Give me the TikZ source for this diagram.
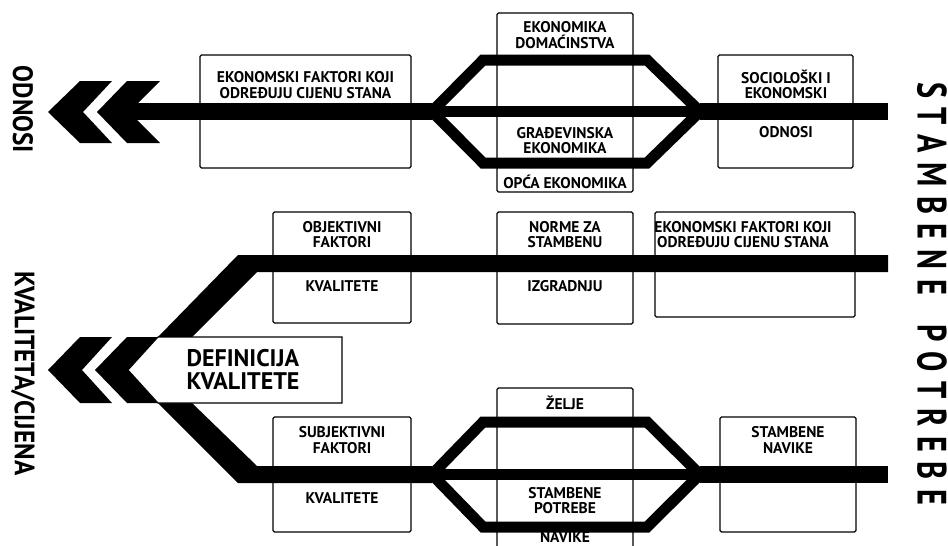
\documentclass[tikz,border=0pt]{standalone}
\usepackage{fontspec}
\usepackage{graphicx}
\setmainfont{PT Sans}
\usetikzlibrary{positioning}

\newcommand{\gapT}{\hspace{13pt}}

\begin{document}
\begin{tikzpicture}[x=1pt,y=-1pt,
    box/.style={draw=black,line width=1.1pt,rounded corners=1.5pt,inner sep=0pt},
    txt/.style={font=\fontsize{15.5}{15.5}\selectfont\bfseries,align=center,inner sep=0pt},
    bigtxt/.style={font=\fontsize{24}{23}\selectfont\bfseries,align=left,inner sep=0pt},
    sidetitle/.style={font=\fontsize{28}{30}\selectfont\bfseries,rotate=-90,inner sep=0pt},
    track/.style={line width=17pt},
    branch/.style={line width=11pt}]
\useasboundingbox (0,0) rectangle (948,546);

% boxes, upper part
\node[box,minimum width=211pt,minimum height=113pt] (faktA) at (305.5,111.5) {};
\node[box,minimum width=136pt,minimum height=179pt] (ekonC) at (565,102.5) {};
\node[box,minimum width=135pt,minimum height=113pt] (socR) at (785.5,111.5) {};
% boxes, lower part
\node[box,minimum width=138pt,minimum height=111pt] (objB) at (342,267.5) {};
\node[box,minimum width=136pt,minimum height=112pt] (normeC) at (565,268) {};
\node[box,minimum width=200pt,minimum height=105pt] (faktR) at (755,264.5) {};
\node[box,minimum width=138pt,minimum height=115pt] (subjB) at (342,474.5) {};
\node[box,minimum width=136pt,minimum height=180pt] (zeljeC) at (565,478) {};
\node[box,minimum width=136pt,minimum height=115pt] (navR) at (788,474.5) {};

% upper track
\coordinate (tA) at (129,111.5);
\coordinate (tS) at (432,111.5);
\coordinate (tU1) at (483,60);
\coordinate (tU2) at (647,60);
\coordinate (tL1) at (483,163);
\coordinate (tL2) at (647,163);
\coordinate (tJ) at (700,111.5);
\coordinate (tE) at (888,111.5);
\fill (48,112) -- (80,81) -- (112,81) -- (83,112) -- (112,143) -- (80,143) -- cycle;
\fill (97,112) -- (127,81) -- (160,81) -- (129,112) -- (160,143) -- (127,143) -- cycle;
\draw[track] (tA) -- (tS);
\draw[branch] (tS) -- (tJ);
\draw[branch] (tS) -- (tU1) -- (tU2) -- (tJ);
\draw[branch] (tS) -- (tL1) -- (tL2) -- (tJ);
\draw[track] (tJ) -- (tE);

% lower track
\coordinate (bS) at (432,474.5);
\coordinate (bU1) at (483,422);
\coordinate (bU2) at (647,422);
\coordinate (bL1) at (483,527);
\coordinate (bL2) at (647,527);
\coordinate (bJ) at (700,474.5);
\coordinate (bE) at (888,474.5);
\fill (48,370) -- (80,337) -- (112,337) -- (82,370) -- (112,403) -- (80,403) -- cycle;
\fill (95,370) -- (127,337) -- (158,337) -- (238,255) -- (888,255) -- (888,272)
   -- (257,272) -- (192,337) -- (192,403) -- (257,466) -- (432,466) -- (432,483)
   -- (238,483) -- (158,403) -- (127,403) -- cycle;
\draw[branch] (bS) -- (bJ);
\draw[branch] (bS) -- (bU1) -- (bU2) -- (bJ);
\draw[branch] (bS) -- (bL1) -- (bL2) -- (bJ);
\draw[track] (bJ) -- (bE);
\draw[line width=1.1pt,fill=white] (128,370) -- (158,337) -- (342,337) -- (342,403) -- (158,403) -- cycle;
\node[bigtxt] (defT) at (243,369) {DEFINICIJA\\KVALITETE};

% box texts, upper part
\node[txt] (faktAt) at (305.5,85) {EKONOMSKI FAKTORI KOJI\\ODREĐUJU CIJENU STANA};
\node[txt] (domT) at (565,35) {EKONOMIKA\\DOMAĆINSTVA};
\node[txt] (gradT) at (565,140.5) {GRAĐEVINSKA\\EKONOMIKA};
\node[txt] (opcaT) at (565,182) {OPĆA EKONOMIKA};
\node[txt] (socT) at (786,84.5) {SOCIOLOŠKI I\\EKONOMSKI};
\node[txt] (odnT) at (786,132) {ODNOSI};
% box texts, lower part
\node[txt] (objT) at (342,234.5) {OBJEKTIVNI\\FAKTORI};
\node[txt] (kvalA) at (342,286) {KVALITETE};
\node[txt] (normeT) at (565,234.5) {NORME ZA\\STAMBENU};
\node[txt] (izgrT) at (565,286) {IZGRADNJU};
\node[txt] (faktRt) at (743,234.5) {EKONOMSKI FAKTORI KOJI\\ODREĐUJU CIJENU STANA};
\node[txt] (subjT) at (342,440) {SUBJEKTIVNI\\FAKTORI};
\node[txt] (kvalB) at (342,498) {KVALITETE};
\node[txt] (zeljeT) at (565,403) {ŽELJE};
\node[txt] (potrT) at (565,500.5) {STAMBENE\\POTREBE};
\node[txt] (navT) at (565,537) {NAVIKE};
\node[txt] (navRt) at (788,440) {STAMBENE\\NAVIKE};

% side titles
\node[sidetitle] (odnosi) at (23,109.5) {\scalebox{0.9}[1]{ODNOSI}};
\node[sidetitle] (kvalcij) at (23,373.5) {\scalebox{0.9}[1]{KVALITETA/CIJENA}};
\node[sidetitle,font=\fontsize{41}{42}\selectfont\bfseries] (stamb) at (932,293.5)
  {\scalebox{0.74}[1]{S\gapT T\gapT A\gapT M\gapT B\gapT E\gapT N\gapT E\hspace{40pt}P\gapT O\gapT T\gapT R\gapT E\gapT B\gapT E}};
\end{tikzpicture}
\end{document}
